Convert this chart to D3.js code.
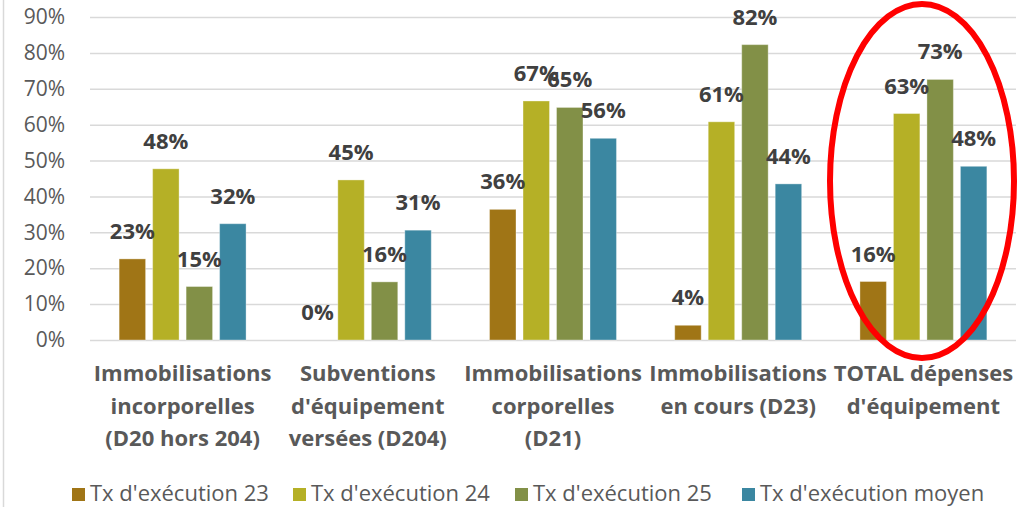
<!DOCTYPE html>
<html>
<head>
<meta charset="utf-8">
<script src="https://cdnjs.cloudflare.com/ajax/libs/d3/7.8.5/d3.min.js"></script>
<style>
  body { margin: 0; background: #fff; }
  svg text { font-family: "Open Sans", sans-serif; }
</style>
</head>
<body>
<svg width="1017" height="507"></svg>
<script>
// categories (one label line per array item)
var categories = [
  ["Immobilisations", "incorporelles", "(D20 hors 204)"],
  ["Subventions", "d'équipement", "versées (D204)"],
  ["Immobilisations", "corporelles", "(D21)"],
  ["Immobilisations", "en cours (D23)"],
  ["TOTAL dépenses", "d'équipement"]
];
var seriesNames = ["Tx d'exécution 23", "Tx d'exécution 24", "Tx d'exécution 25", "Tx d'exécution moyen"];
var colors = ["#a07516", "#b5b026", "#829047", "#3b87a1"];

// values per series, in %
var tx23  = [22.6, 0, 36.4, 4.1, 16.3];
var tx24  = [47.7, 44.6, 66.6, 60.8, 63.1];
var tx25  = [14.9, 16.2, 64.8, 82.3, 72.6];
var txMoy = [32.4, 30.6, 56.2, 43.5, 48.4];
var series = [tx23, tx24, tx25, txMoy];

var yTicks = [0, 10, 20, 30, 40, 50, 60, 70, 80, 90];

var svg = d3.select("svg");
var plotL = 90, plotR = 1016, plotT = 17, plotB = 340;

// left frame line
svg.append("line")
  .attr("x1", 3.5).attr("x2", 3.5).attr("y1", 0).attr("y2", 507)
  .attr("stroke", "#d9d9d9").attr("stroke-width", 1.5);

var y = d3.scaleLinear().domain([0, 90]).range([plotB, plotT]);

var x0 = d3.scaleBand()
  .domain(d3.range(categories.length))
  .range([plotL, plotR]);

var x1 = d3.scaleBand()
  .domain(d3.range(series.length))
  .range([0, x0.bandwidth()])
  .paddingInner(0.21)
  .paddingOuter(0.87);

// gridlines + y labels
var yAxis = svg.append("g")
  .attr("transform", "translate(" + plotL + ",0)")
  .call(d3.axisLeft(y).tickValues(yTicks).tickSize(-(plotR - plotL))
    .tickFormat(function(d) { return d + "%"; }).tickPadding(25));
yAxis.select(".domain").remove();
yAxis.selectAll(".tick line").attr("stroke", "#d9d9d9").attr("stroke-width", 1.5);
yAxis.selectAll(".tick text")
  .attr("fill", "#595959")
  .style("font-size", "21px");

// bars
var groups = svg.selectAll(".grp")
  .data(categories)
  .enter().append("g")
    .attr("class", "grp")
    .attr("transform", function(d, i) { return "translate(" + x0(i) + ",0)"; });

groups.each(function(c, ci) {
  var g = d3.select(this);
  series.forEach(function(s, si) {
    g.append("rect")
      .attr("x", x1(si))
      .attr("y", y(s[ci]))
      .attr("width", x1.bandwidth())
      .attr("height", plotB - y(s[ci]))
      .attr("fill", colors[si])
      .attr("stroke", "#fff")
      .attr("stroke-opacity", 0.35)
      .attr("stroke-width", 1);
  });
});

// data labels drawn after all bars so they sit on top
groups.each(function(c, ci) {
  var g = d3.select(this);
  series.forEach(function(s, si) {
    g.append("text")
      .attr("x", x1(si) + x1.bandwidth() / 2)
      .attr("y", y(s[ci]) - 20)
      .attr("text-anchor", "middle")
      .attr("fill", "#404040")
      .style("font-size", "22px")
      .style("font-weight", "bold")
      .text(Math.round(s[ci]) + "%");
  });
  var t = g.append("text")
    .attr("x", x0.bandwidth() / 2)
    .attr("y", 381)
    .attr("text-anchor", "middle")
    .attr("fill", "#595959")
    .style("font-size", "22px")
    .style("font-weight", "bold");
  c.forEach(function(line, li) {
    t.append("tspan")
      .attr("x", x0.bandwidth() / 2)
      .attr("dy", li === 0 ? 0 : 32.5)
      .text(line);
  });
});

// legend
var legendX = [72, 293, 515, 742];
var legend = svg.selectAll(".leg")
  .data(seriesNames)
  .enter().append("g")
    .attr("class", "leg")
    .attr("transform", function(d, i) { return "translate(" + legendX[i] + ",488)"; });
legend.append("rect")
  .attr("width", 13).attr("height", 13)
  .attr("fill", function(d, i) { return colors[i]; });
legend.append("text")
  .attr("x", 18).attr("y", 12.5)
  .attr("fill", "#595959")
  .style("font-size", "22px")
  .text(function(d) { return d; });

// red annotation ellipse
svg.append("ellipse")
  .attr("cx", 922).attr("cy", 181)
  .attr("rx", 92).attr("ry", 177)
  .attr("fill", "none")
  .attr("stroke", "#ff0000")
  .attr("stroke-width", 6);
</script>
</body>
</html>
